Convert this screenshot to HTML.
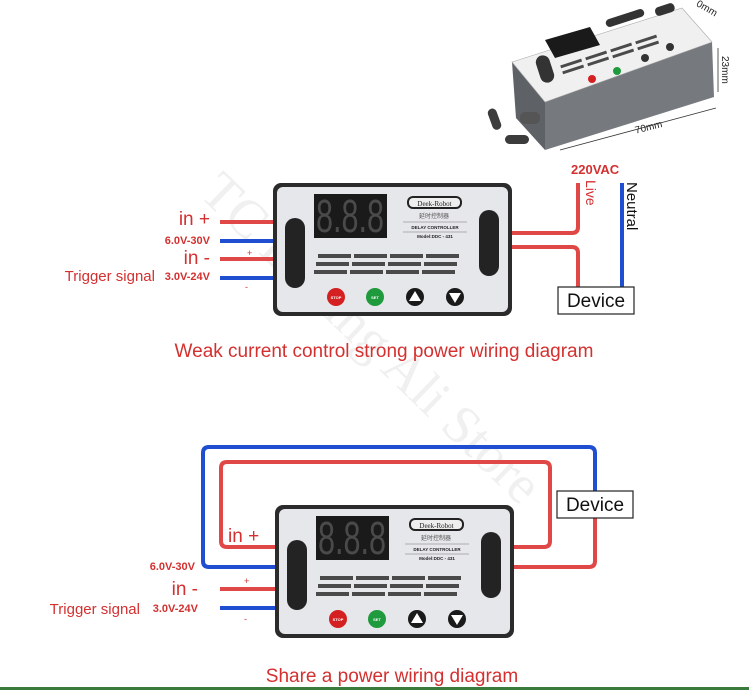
<!DOCTYPE html>
<html><head><meta charset="utf-8"><style>
html,body{margin:0;padding:0;background:#fff;}
svg{display:block;font-family:"Liberation Sans",Arial,sans-serif;}
</style></head><body>
<svg width="749" height="690" viewBox="0 0 749 690" xmlns="http://www.w3.org/2000/svg">
<defs>
<g id="mod">
  <rect x="0" y="0" width="239" height="133" rx="8" fill="#2b2b2b"/>
  <rect x="4" y="4" width="231" height="125" rx="6" fill="#e6e7ea"/>
  <rect x="41" y="11" width="73" height="44" fill="#1a1a1a"/>
  <text x="43" y="49" font-size="46" fill="#4a4a4a" textLength="68" lengthAdjust="spacingAndGlyphs" font-family="Liberation Sans,sans-serif">8.8.8</text>
  <rect x="134" y="13" width="55" height="13" rx="6" fill="#222"/>
  <rect x="136" y="15" width="51" height="9" rx="4" fill="#eee"/>
  <text x="161.5" y="23" font-size="7" text-anchor="middle" fill="#222" font-family="Liberation Serif,serif">Deek-Robot</text>
  <text x="161" y="35" font-size="6" text-anchor="middle" fill="#555" font-family="Liberation Sans,'Noto Sans CJK SC',sans-serif">延时控制器</text>
  <line x1="130" y1="39" x2="194" y2="39" stroke="#777" stroke-width="0.6"/>
  <text x="162" y="46" font-size="4.5" text-anchor="middle" fill="#222" font-weight="bold">DELAY CONTROLLER</text>
  <line x1="130" y1="49" x2="194" y2="49" stroke="#777" stroke-width="0.6"/>
  <text x="162" y="55" font-size="4.5" text-anchor="middle" fill="#222" font-weight="bold">Model:DDC - 431</text>
  <rect x="12" y="35" width="20" height="70" rx="10" fill="#232323"/>
  <rect x="206" y="27" width="20" height="66" rx="10" fill="#232323"/>
  <g fill="#4a4a4a">
    <rect x="45" y="71" width="33" height="4"/><rect x="81" y="71" width="33" height="4"/><rect x="117" y="71" width="33" height="4"/><rect x="153" y="71" width="33" height="4"/>
    <rect x="43" y="79" width="33" height="4"/><rect x="79" y="79" width="33" height="4"/><rect x="115" y="79" width="33" height="4"/><rect x="151" y="79" width="33" height="4"/>
    <rect x="41" y="87" width="33" height="4"/><rect x="77" y="87" width="33" height="4"/><rect x="113" y="87" width="33" height="4"/><rect x="149" y="87" width="33" height="4"/>
  </g>
  <circle cx="63" cy="114" r="9" fill="#d42020"/><text x="63" y="116" font-size="4" fill="#fff" text-anchor="middle" font-weight="bold">STOP</text>
  <circle cx="102" cy="114" r="9" fill="#1f9a3c"/><text x="102" y="116" font-size="4" fill="#fff" text-anchor="middle" font-weight="bold">SET</text>
  <circle cx="142" cy="114" r="9" fill="#1a1a1a"/><polygon points="142,108 148,118 136,118" fill="#fff"/>
  <circle cx="182" cy="114" r="9" fill="#1a1a1a"/><polygon points="182,120 188,110 176,110" fill="#fff"/>
</g>
</defs>

<!-- watermark -->
<text x="0" y="0" transform="translate(198,195) rotate(44)" font-size="54" fill="#f0f0f0" font-family="Liberation Serif,serif">TC Buying Ali Store</text>

<!-- product photo -->
<g>
  <polygon points="512,62 545,102 545,150 516,118" fill="#5e6166"/>
  <polygon points="545,102 712,42 714,97 545,150" fill="#76797e"/>
  <polygon points="512,62 682,8 712,42 545,102" fill="#f0f0f1" stroke="#aaa" stroke-width="0.6"/>
  <polygon points="545,40 590,27 600,45 555,58" fill="#1a1a1a"/>
  <rect x="605" y="14" width="40" height="8" rx="4" fill="#333" transform="rotate(-18 625 18)"/>
  <rect x="655" y="5" width="20" height="9" rx="4" fill="#333" transform="rotate(-18 665 10)"/>
  <rect x="538" y="55" width="14" height="28" rx="7" fill="#333" transform="rotate(-18 545 69)"/>
  <g fill="#4a4a4a">
    <rect x="560" y="62" width="22" height="3" transform="rotate(-18 571 63)"/><rect x="585" y="54" width="22" height="3" transform="rotate(-18 596 55)"/><rect x="610" y="46" width="22" height="3" transform="rotate(-18 621 47)"/><rect x="635" y="38" width="22" height="3" transform="rotate(-18 646 39)"/>
    <rect x="562" y="68" width="22" height="3" transform="rotate(-18 573 69)"/><rect x="587" y="60" width="22" height="3" transform="rotate(-18 598 61)"/><rect x="612" y="52" width="22" height="3" transform="rotate(-18 623 53)"/><rect x="637" y="44" width="22" height="3" transform="rotate(-18 648 45)"/>
  </g>
  <circle cx="592" cy="79" r="4" fill="#d42020"/><circle cx="617" cy="71" r="4" fill="#1f9a3c"/>
  <circle cx="645" cy="58" r="4" fill="#333"/><circle cx="670" cy="47" r="4" fill="#333"/>
  <rect x="490" y="108" width="9" height="22" rx="4.5" fill="#3c3c3c" transform="rotate(-20 495 119)"/>
  <rect x="505" y="135" width="24" height="9" rx="4.5" fill="#3c3c3c"/>
  <rect x="520" y="112" width="20" height="12" rx="5" fill="#555"/>
  <line x1="560" y1="150" x2="716" y2="108" stroke="#333" stroke-width="0.8"/>
  <line x1="718" y1="48" x2="718" y2="92" stroke="#333" stroke-width="0.8"/>
  <text x="635" y="130" font-size="10" fill="#222" transform="rotate(-14 650 128)">70mm</text>
  <text x="722" y="56" font-size="10" fill="#222" transform="rotate(90 722 56)">23mm</text>
  <text x="695" y="8" font-size="10" fill="#222" transform="rotate(30 700 8)">0mm</text>
</g>

<!-- diagram 1 wires -->
<g fill="none" stroke-width="4">
  <line x1="220" y1="222" x2="275" y2="222" stroke="#e04848"/>
  <line x1="220" y1="241" x2="275" y2="241" stroke="#1f4fd0"/>
  <line x1="220" y1="259" x2="275" y2="259" stroke="#e04848"/>
  <line x1="220" y1="278" x2="275" y2="278" stroke="#1f4fd0"/>
  <path d="M510 233 H572 Q578 233 578 227 V183" stroke="#e04848"/>
  <path d="M510 247 H572 Q578 247 578 253 V290" stroke="#e04848"/>
  <line x1="622" y1="183" x2="622" y2="290" stroke="#1f4fd0"/>
</g>
<use href="#mod" x="273" y="183"/>
<rect x="558" y="287" width="76" height="27" fill="#fff" stroke="#222" stroke-width="1.2"/>
<text x="596" y="307" font-size="19" text-anchor="middle" fill="#111">Device</text>
<text x="571" y="174" font-size="13" fill="#d43030" font-weight="bold">220VAC</text>
<text x="0" y="0" transform="translate(586,180) rotate(90)" font-size="14" fill="#d43030">Live</text>
<text x="0" y="0" transform="translate(627,182) rotate(90)" font-size="15" fill="#111">Neutral</text>
<g fill="#d43030">
  <text x="210" y="225" font-size="19" text-anchor="end">in +</text>
  <text x="210" y="244" font-size="11" text-anchor="end" font-weight="bold">6.0V-30V</text>
  <text x="210" y="264" font-size="19" text-anchor="end">in -</text>
  <text x="155" y="281" font-size="15" text-anchor="end">Trigger signal</text>
  <text x="210" y="280" font-size="11" text-anchor="end" font-weight="bold">3.0V-24V</text>
  <text x="247" y="256" font-size="9">+</text>
  <text x="245" y="290" font-size="9">-</text>
</g>
<text x="384" y="357" font-size="19" text-anchor="middle" fill="#d43030">Weak current control strong power wiring diagram</text>

<!-- diagram 2 wires -->
<g fill="none" stroke-width="4">
  <path d="M277 567 H209 Q203 567 203 561 V453 Q203 447 209 447 H589 Q595 447 595 453 V491" stroke="#1f4fd0"/>
  <path d="M277 547 H227 Q221 547 221 541 V468 Q221 462 227 462 H544 Q550 462 550 468 V541 Q550 547 544 547 H510" stroke="#e04848"/>
  <path d="M510 567 H589 Q595 567 595 561 V518" stroke="#e04848"/>
  <line x1="220" y1="589" x2="277" y2="589" stroke="#e04848"/>
  <line x1="220" y1="608" x2="277" y2="608" stroke="#1f4fd0"/>
</g>
<use href="#mod" x="275" y="505"/>
<rect x="557" y="491" width="76" height="27" fill="#fff" stroke="#222" stroke-width="1.2"/>
<text x="595" y="511" font-size="19" text-anchor="middle" fill="#111">Device</text>
<g fill="#d43030">
  <text x="228" y="542" font-size="19">in +</text>
  <text x="195" y="570" font-size="11" text-anchor="end" font-weight="bold">6.0V-30V</text>
  <text x="198" y="595" font-size="19" text-anchor="end">in -</text>
  <text x="140" y="614" font-size="15" text-anchor="end">Trigger signal</text>
  <text x="198" y="612" font-size="11" text-anchor="end" font-weight="bold">3.0V-24V</text>
  <text x="244" y="584" font-size="9">+</text>
  <text x="244" y="622" font-size="9">-</text>
</g>
<text x="392" y="682" font-size="19" text-anchor="middle" fill="#d43030">Share a power wiring diagram</text>
<rect x="0" y="687" width="749" height="3" fill="#3a7a3a"/>
</svg>
</body></html>
